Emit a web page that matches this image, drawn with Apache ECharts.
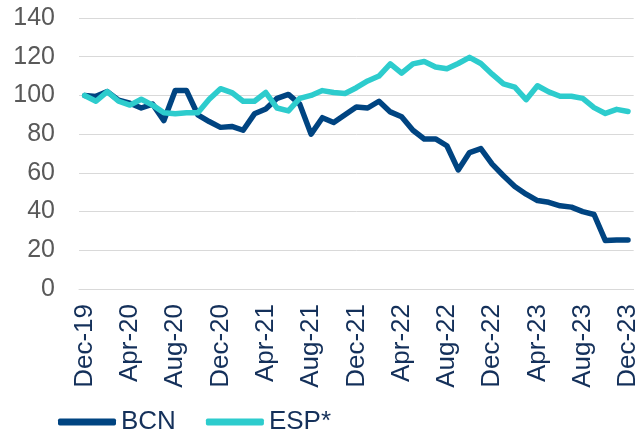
<!DOCTYPE html>
<html>
<head>
<meta charset="utf-8">
<script src="https://cdn.jsdelivr.net/npm/echarts@6/dist/echarts.min.js"></script>
<style>
  html, body { margin: 0; padding: 0; background: #fff; }
  #chart { width: 641px; height: 433px; }
</style>
</head>
<body>
<div id="chart"></div>
<script>
// months Dec-19 .. Dec-23
const categories = [
  'Dec-19', 'Jan-20', 'Feb-20', 'Mar-20', 'Apr-20', 'May-20', 'Jun-20', 'Jul-20',
  'Aug-20', 'Sep-20', 'Oct-20', 'Nov-20', 'Dec-20', 'Jan-21', 'Feb-21', 'Mar-21',
  'Apr-21', 'May-21', 'Jun-21', 'Jul-21', 'Aug-21', 'Sep-21', 'Oct-21', 'Nov-21',
  'Dec-21', 'Jan-22', 'Feb-22', 'Mar-22', 'Apr-22', 'May-22', 'Jun-22', 'Jul-22',
  'Aug-22', 'Sep-22', 'Oct-22', 'Nov-22', 'Dec-22', 'Jan-23', 'Feb-23', 'Mar-23',
  'Apr-23', 'May-23', 'Jun-23', 'Jul-23', 'Aug-23', 'Sep-23', 'Oct-23', 'Nov-23',
  'Dec-23'
];

const bcn = [
  100, 99.5, 102, 97.5, 96, 93.5, 95.5, 87,
  102.5, 102.5, 90, 86.5, 83.5, 84, 82, 90.5,
  93, 98.5, 100.5, 95.5, 80, 88.5, 86, 90,
  94, 93.5, 97, 91.5, 89, 82, 77.5, 77.5,
  74, 61.5, 70.5, 72.5, 64.5, 58.5, 53, 49,
  45.7, 44.8, 43, 42.3, 40, 38.5, 25, 25.3,
  25.3
];

const esp = [
  100, 97, 102, 97, 95, 98, 95, 91,
  90.5, 91, 91, 98, 103.5, 101.5, 97, 97,
  101.5, 93.5, 92, 98.5, 100, 102.5, 101.5, 101,
  104, 107.5, 110, 116.3, 111.5, 116.3, 117.5, 114.7,
  113.8, 116.5, 119.7, 116.5, 111, 106, 104.3, 97.8,
  105, 101.8, 99.6, 99.6, 98.5, 93.7, 90.7, 92.8,
  91.7
];

const yTicks = { min: 0, max: 140, step: 20 };

const chart = echarts.init(document.getElementById('chart'));

const lineStyle = (color) => ({
  color: color,
  width: 5.5,
  cap: 'round',
  join: 'round'
});

chart.setOption({
  animation: false,
  grid: {
    left: 79,
    right: 7,
    top: 18,
    bottom: 144,
    containLabel: false
  },
  legend: {
    left: 58,
    top: 409,
    padding: 0,
    itemGap: 30,
    itemWidth: 58,
    itemHeight: 7,
    icon: 'roundRect',
    textStyle: {
      fontFamily: 'Liberation Sans, Arial, sans-serif',
      fontSize: 26,
      color: '#14305A'
    },
    data: ['BCN', 'ESP*']
  },
  xAxis: {
    type: 'category',
    data: categories,
    boundaryGap: true,
    axisLine: { lineStyle: { color: '#d9d9d9', width: 1 } },
    axisTick: {
      interval: 3,
      length: 7,
      lineStyle: { color: '#d9d9d9' }
    },
    axisLabel: {
      interval: 3,
      rotate: 90,
      margin: 15,
      fontFamily: 'Liberation Sans, Arial, sans-serif',
      fontSize: 26,
      color: '#14305A'
    },
    splitLine: { show: false }
  },
  yAxis: {
    type: 'value',
    min: yTicks.min,
    max: yTicks.max,
    interval: yTicks.step,
    axisLine: { show: false },
    axisTick: { show: false },
    axisLabel: {
      margin: 24,
      fontFamily: 'Liberation Sans, Arial, sans-serif',
      fontSize: 25,
      color: '#595959'
    },
    splitLine: { lineStyle: { color: '#d9d9d9', width: 1 } }
  },
  series: [
    {
      name: 'BCN',
      type: 'line',
      data: bcn,
      symbol: 'none',
      color: '#004481',
      lineStyle: lineStyle('#004481'),
      z: 2
    },
    {
      name: 'ESP*',
      type: 'line',
      data: esp,
      symbol: 'none',
      color: '#2DCCCD',
      lineStyle: lineStyle('#2DCCCD'),
      z: 3
    }
  ]
});
</script>
</body>
</html>
